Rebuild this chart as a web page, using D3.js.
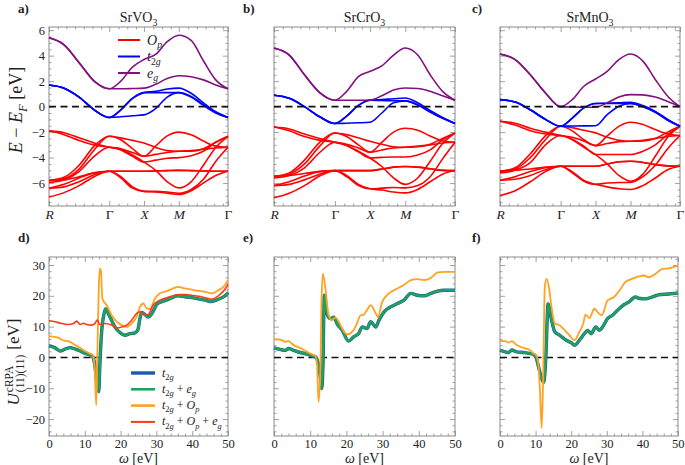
<!DOCTYPE html>
<html><head><meta charset="utf-8">
<script src="https://cdn.jsdelivr.net/npm/d3@7"></script>
<style>
body{margin:0;background:#fff}
svg{display:block}
svg text{font-family:"Liberation Serif","Times New Roman","DejaVu Serif",serif !important;fill:#222}
</style>
</head><body><svg id="chart" width="685" height="465" font-family="Liberation Serif"></svg>
<script>
// ---------- k-path & tick data ----------
const kPath = [0, 0.433, 0.866, 1.299, 1.732, 2.065, 2.399, 2.732, 3.065, 3.399, 3.732, 4.086, 4.439, 4.793, 5.146];
const kTickPos = [0, 1.732, 2.732, 3.732, 5.146];
const kTickLabels = ["R", "Γ", "X", "M", "Γ"];
const eTicks = [-6, -4, -2, 0, 2, 4, 6];
const omegaTicks = [0, 10, 20, 30, 40, 50];
const uTicks = [-20, -10, 0, 10, 20, 30];
const compounds = ["SrVO", "SrCrO", "SrMnO"];

// ---------- SrVO3 bands ----------
const srvo3_eg = [
  [5.4, 4.85, 3.45, 2.0, 1.4, 2.0, 3.1, 3.7, 4.1, 5.1, 5.6, 5.2, 3.6, 2.1, 1.4],
  [5.4, 4.85, 3.45, 2.0, 1.4, 1.4, 1.42, 1.45, 1.75, 2.2, 2.42, 2.35, 2.1, 1.7, 1.4]
];
const srvo3_t2g = [
  [1.7, 1.45, 0.75, -0.25, -0.85, -0.25, 0.65, 1.1, 1.2, 1.38, 1.45, 1.05, 0.3, -0.4, -0.85],
  [1.7, 1.45, 0.75, -0.25, -0.85, -0.25, 0.65, 1.1, 1.1, 1.1, 1.1, 0.8, 0.15, -0.45, -0.85],
  [1.7, 1.45, 0.75, -0.25, -0.85, -0.8, -0.72, -0.65, -0.15, 0.75, 1.1, 0.75, 0.1, -0.5, -0.85]
];
const srvo3_op = [
  [-1.9, -2.05, -2.45, -2.85, -3.19, -3.3, -3.6, -3.9, -3.75, -3.6, -3.5, -3.45, -3.35, -3.25, -3.19],
  [-1.9, -2.2, -2.65, -3.0, -3.19, -3.4, -3.9, -4.35, -4.2, -4.05, -4.0, -3.85, -3.5, -2.8, -2.33],
  [-5.8, -5.55, -4.6, -3.1, -2.33, -2.45, -2.65, -2.85, -3.2, -3.45, -3.5, -3.5, -3.3, -2.8, -2.33],
  [-5.8, -5.65, -4.9, -3.4, -2.33, -2.6, -3.3, -3.9, -3.1, -2.3, -2.0, -2.2, -2.7, -3.1, -3.19],
  [-5.95, -5.75, -5.1, -3.9, -3.19, -3.35, -3.8, -4.35, -5.0, -5.9, -6.38, -5.9, -4.6, -3.2, -2.33],
  [-6.4, -6.1, -5.6, -5.2, -5.07, -5.07, -5.07, -5.07, -5.05, -5.02, -5.0, -5.02, -5.05, -5.07, -5.07],
  [-6.4, -6.3, -5.9, -5.35, -5.07, -5.5, -6.3, -6.65, -6.7, -6.8, -6.9, -6.6, -6.0, -5.4, -5.07],
  [-7.1, -6.75, -6.2, -5.5, -5.07, -5.6, -6.4, -6.65, -6.65, -6.7, -6.8, -6.5, -5.7, -4.3, -3.19],
  [-5.8, -5.75, -5.5, -5.2, -5.07, -5.07, -5.07, -5.07, -5.05, -5.02, -5.0, -5.02, -5.05, -5.07, -5.07]
];

// ---------- SrCrO3 bands ----------
const srcro3_eg = [
  [4.6, 4.05, 2.5, 1.1, 0.5, 1.2, 2.35, 2.77, 3.2, 4.05, 4.6, 4.05, 2.5, 1.2, 0.5],
  [4.6, 4.05, 2.5, 1.1, 0.5, 0.5, 0.5, 0.52, 0.85, 1.3, 1.46, 1.42, 1.2, 0.85, 0.5]
];
const srcro3_t2g = [
  [0.89, 0.65, 0.0, -0.8, -1.33, -0.75, 0.1, 0.5, 0.55, 0.62, 0.68, 0.3, -0.3, -0.85, -1.33],
  [0.89, 0.65, 0.0, -0.8, -1.33, -0.75, 0.1, 0.5, 0.48, 0.46, 0.45, 0.15, -0.4, -0.9, -1.33],
  [0.89, 0.65, 0.0, -0.8, -1.33, -1.3, -1.27, -1.23, -0.5, 0.3, 0.45, 0.12, -0.42, -0.92, -1.33]
];
const srcro3_op = [
  [-1.6, -1.75, -2.15, -2.5, -2.8, -2.95, -3.25, -3.58, -3.4, -3.25, -3.19, -3.1, -3.0, -2.85, -2.8],
  [-1.6, -1.9, -2.35, -2.65, -2.8, -3.05, -3.55, -4.03, -3.98, -3.95, -3.95, -3.8, -3.4, -2.6, -2.07],
  [-5.46, -5.2, -4.2, -2.8, -2.07, -2.2, -2.45, -2.72, -2.95, -3.15, -3.19, -3.15, -2.95, -2.5, -2.07],
  [-5.46, -5.3, -4.5, -3.1, -2.07, -2.35, -3.0, -3.58, -2.8, -2.0, -1.7, -1.85, -2.3, -2.7, -2.8],
  [-5.6, -5.4, -4.8, -3.6, -2.8, -3.05, -3.5, -4.03, -4.7, -5.6, -6.1, -5.6, -4.3, -2.9, -2.07],
  [-6.2, -5.9, -5.45, -5.1, -5.02, -5.02, -5.02, -5.02, -4.9, -4.75, -4.7, -4.75, -4.88, -5.0, -5.02],
  [-6.2, -6.1, -5.75, -5.3, -5.02, -5.4, -6.1, -6.45, -6.55, -6.7, -6.77, -6.5, -5.9, -5.3, -5.02],
  [-7.16, -6.8, -6.2, -5.45, -5.02, -5.5, -6.2, -6.45, -6.4, -6.35, -6.38, -6.2, -5.5, -4.1, -2.8],
  [-5.46, -5.4, -5.25, -5.08, -5.02, -5.02, -5.02, -5.02, -4.9, -4.75, -4.7, -4.75, -4.88, -5.0, -5.02]
];

// ---------- SrMnO3 bands ----------
const srmno3_eg = [
  [4.13, 3.69, 2.5, 1.07, 0.0, 0.55, 1.6, 2.17, 2.77, 3.69, 4.13, 3.57, 2.13, 0.82, 0.0],
  [4.13, 3.69, 2.5, 1.07, 0.0, -0.03, -0.04, -0.05, 0.3, 0.75, 0.94, 0.92, 0.75, 0.4, 0.0]
];
const srmno3_t2g = [
  [0.55, 0.37, -0.25, -1.0, -1.54, -0.9, -0.1, 0.25, 0.27, 0.3, 0.34, 0.08, -0.37, -1.0, -1.54],
  [0.55, 0.37, -0.25, -1.0, -1.54, -0.9, -0.1, 0.25, 0.25, 0.25, 0.25, 0.02, -0.42, -1.05, -1.54],
  [0.55, 0.37, -0.25, -1.0, -1.54, -1.52, -1.51, -1.5, -0.63, 0.03, 0.25, 0.0, -0.45, -1.07, -1.54]
];
const srmno3_op = [
  [-1.15, -1.3, -1.7, -2.0, -2.27, -2.4, -2.7, -3.06, -2.9, -2.75, -2.72, -2.65, -2.5, -2.35, -2.27],
  [-1.15, -1.45, -1.9, -2.15, -2.27, -2.55, -3.1, -3.76, -3.76, -3.76, -3.76, -3.5, -3.0, -2.2, -1.54],
  [-5.07, -4.8, -3.7, -2.3, -1.54, -1.65, -1.85, -2.06, -2.4, -2.65, -2.72, -2.7, -2.5, -2.0, -1.54],
  [-5.07, -4.9, -4.0, -2.6, -1.54, -1.9, -2.6, -3.06, -2.3, -1.55, -1.23, -1.4, -1.8, -2.15, -2.27],
  [-5.2, -5.0, -4.4, -3.0, -2.27, -2.6, -3.2, -3.76, -4.5, -5.4, -5.86, -5.3, -3.9, -2.4, -1.54],
  [-5.78, -5.5, -5.1, -4.8, -4.68, -4.68, -4.68, -4.68, -4.5, -4.33, -4.29, -4.38, -4.55, -4.65, -4.68],
  [-5.78, -5.7, -5.4, -4.95, -4.68, -5.1, -5.8, -6.1, -6.3, -6.45, -6.51, -6.2, -5.6, -4.95, -4.68],
  [-6.98, -6.6, -5.9, -5.1, -4.68, -5.2, -5.85, -6.1, -6.0, -5.95, -5.95, -5.5, -4.6, -3.3, -2.27],
  [-5.07, -5.0, -4.9, -4.75, -4.68, -4.68, -4.68, -4.68, -4.5, -4.33, -4.29, -4.38, -4.55, -4.65, -4.68]
];

// ---------- cRPA U(omega) : [omega, U] ----------
const srvo3_U_t2g = [[0,3.8],[1.7,3.1],[3.1,2.1],[4.5,2.7],[5.9,3.2],[7.3,2.7],[8.7,2.1],[10.1,1.3],[11.5,0.8],[12.1,0.5],[12.8,-2.5],[13.4,-8.4],[13.9,-11.1],[14.2,-2.5],[14.7,8.3],[15.4,14.3],[15.8,15.7],[17.0,13.2],[18.4,9.9],[19.8,8.1],[21.2,7.2],[22.6,7.7],[24.0,8.0],[24.8,8.9],[25.4,12.6],[25.9,14.6],[26.8,13.9],[27.7,13.1],[28.7,14.2],[30.1,17.2],[31.5,18.1],[33.3,18.8],[34.7,19.6],[36.1,20.0],[38.0,19.7],[39.9,19.4],[41.7,19.0],[43.6,18.6],[45.4,18.1],[47.3,18.9],[49.2,20.0],[50,21.0]];
const srvo3_U_t2g_eg = [[0,3.7],[1.7,3.0],[3.1,2.1],[4.5,2.7],[5.9,3.1],[7.3,2.7],[8.7,2.1],[10.1,1.3],[11.5,0.8],[12.1,0.5],[12.8,-2.5],[13.4,-8.4],[13.9,-11.1],[14.2,-2.5],[14.7,8.3],[15.4,14.3],[15.8,15.7],[17.0,13.2],[18.4,9.9],[19.8,8.1],[21.2,7.2],[22.6,7.7],[24.0,8.0],[24.8,8.9],[25.4,12.6],[25.9,14.6],[26.8,13.9],[27.7,13.1],[28.7,14.2],[30.1,17.2],[31.5,18.1],[33.3,18.8],[34.7,19.6],[36.1,20.0],[38.0,19.7],[39.9,19.4],[41.7,19.0],[43.6,18.6],[45.4,18.1],[47.3,18.9],[49.2,20.0],[50,21.0]];
const srvo3_U_t2g_op = [[0,6.9],[2.6,6.4],[4.0,5.5],[5.4,5.3],[7.3,4.0],[8.7,3.1],[10.1,2.1],[11.5,1.2],[12.2,0.8],[12.7,-2.5],[13.2,-15.5],[13.5,0.8],[13.9,22.4],[14.2,28.9],[14.5,28.3],[14.9,19.1],[16.1,17.0],[17.5,13.7],[18.9,11.6],[20.3,10.5],[21.7,9.9],[23.1,11.0],[24.5,13.2],[25.4,16.4],[26.4,17.5],[27.3,15.9],[28.2,15.7],[29.6,19.1],[31.0,20.8],[32.9,21.5],[34.7,22.4],[36.1,22.9],[38.0,22.4],[40.8,21.8],[43.6,21.3],[45.4,20.8],[47.3,21.8],[49.2,23.5],[50,25.1]];
const srvo3_U_t2g_op_eg = [[0,11.9],[1.7,11.6],[3.5,11.0],[5.4,10.7],[6.8,11.0],[7.7,11.8],[8.7,10.7],[9.6,11.1],[10.5,10.7],[11.9,10.5],[12.8,11.0],[13.5,12.1],[14.2,10.7],[15.6,11.0],[17.5,10.5],[18.9,9.6],[20.3,9.9],[21.7,10.5],[23.1,12.1],[24.5,14.3],[25.4,14.8],[26.8,13.7],[27.7,13.9],[29.1,17.0],[31.0,18.6],[32.9,19.4],[34.7,20.0],[36.1,20.4],[38.0,20.4],[40.8,20.0],[43.6,19.4],[45.4,18.9],[47.3,20.0],[49.2,22.2],[50,23.7]];

const srcro3_U_t2g = [[0,3.1],[1.7,2.6],[3.1,2.3],[4.0,2.9],[5.4,2.3],[7.2,1.6],[9.1,1.1],[10.5,0.5],[11.4,0.2],[12.3,-2.5],[12.8,-6.3],[13.2,-10.1],[13.5,-3.6],[13.9,20.2],[14.6,14.3],[15.6,12.6],[16.5,13.1],[17.4,11.0],[18.8,8.9],[20.6,5.3],[22.0,6.7],[23.4,7.8],[24.4,9.9],[25.7,9.4],[26.7,11.6],[28.1,9.9],[29.0,12.1],[30.4,14.8],[32.2,16.4],[34.1,17.5],[35.9,18.6],[37.8,20.8],[39.6,20.2],[41.5,20.0],[43.3,20.8],[45.2,21.5],[47.0,21.8],[50,21.8]];
const srcro3_U_t2g_op = [[0,5.9],[1.7,5.8],[3.1,5.1],[4.0,5.3],[5.4,4.0],[7.2,3.1],[9.1,1.8],[10.5,1.0],[11.4,0.5],[11.9,-2.5],[12.3,-14.4],[12.8,-4.6],[13.1,17.0],[13.5,27.2],[14.2,22.4],[15.1,13.7],[16.0,12.1],[16.9,12.9],[17.9,11.6],[18.8,9.4],[20.2,7.5],[21.1,7.8],[22.5,9.9],[23.1,11.6],[23.9,13.7],[24.8,13.9],[25.7,15.4],[26.7,17.0],[28.1,14.3],[28.7,13.2],[29.9,18.1],[31.8,20.8],[34.1,22.4],[35.9,23.5],[37.8,25.1],[39.6,25.4],[41.5,25.1],[43.3,25.8],[45.2,27.6],[47.0,27.8],[50,27.8]];

const srmno3_U_t2g = [[0,2.4],[1.5,1.8],[2.4,1.6],[3.3,2.4],[4.7,1.8],[6.6,1.6],[8.4,1.3],[9.4,1.0],[10.1,0.2],[10.7,-2.5],[11.7,-6.8],[12.3,-8.1],[12.9,0.8],[13.5,17.4],[14.4,12.6],[15.4,8.3],[16.8,7.2],[18.6,5.6],[20.0,4.8],[20.9,4.0],[22.3,5.6],[23.7,7.7],[24.6,8.8],[25.6,7.7],[26.9,9.9],[27.9,8.8],[28.8,9.9],[30.2,12.6],[31.6,13.7],[33.0,15.3],[34.8,17.1],[36.2,18.0],[38.1,19.6],[39.0,19.2],[40.8,19.0],[42.7,19.6],[44.5,20.3],[47.3,20.6],[50,20.9]];
const srmno3_U_t2g_op = [[0,5.3],[1.5,5.3],[2.4,4.8],[3.3,5.3],[4.7,4.0],[6.6,3.1],[8.4,2.4],[9.4,1.3],[10.1,0.8],[10.7,-1.4],[11.2,-10],[11.7,-22.9],[12.1,-7.8],[12.6,23.3],[13.1,25.5],[13.8,22.3],[14.4,16.9],[15.4,11.0],[16.8,10.4],[17.7,9.4],[19.5,7.2],[20.9,5.6],[22.3,8.3],[23.4,11.0],[24.0,13.9],[25.1,12.8],[26.5,15.8],[27.4,14.7],[28.6,13.7],[30.2,18.5],[32.0,19.6],[33.9,22.3],[35.3,24.6],[37.1,25.5],[39.0,26.3],[40.4,26.6],[41.8,26.0],[43.6,27.1],[45.5,28.7],[47.3,28.9],[50,29.8]];

// ---------- drawing ----------
const FONT = "Liberation Serif";
const svg = d3.select("#chart");
const C = {op:"#ff0000", t2g:"#0000ff", eg:"#7f127f", uBlue:"#1a5aa6", uGreen:"#1fa35a", uOrange:"#ffa21f", uRed:"#ff3a10", frame:"#8a8a8a"};

function rich(t, parts, fs){
  let shift = 0;
  t.attr("font-family", FONT);
  parts.forEach(p=>{
    const target = p.sub ? fs*0.28 : (p.sup ? -fs*0.38 : 0);
    const ts = t.append("tspan").text(p.t).attr("dy", target-shift);
    shift = target;
    if(p.i) ts.attr("font-style","italic");
    if(p.sub||p.sup) ts.attr("font-size", fs*0.7);
  });
  return t;
}

function frame(g, x, y, xr, yr, xMajor, xMinor, yMajor, yMinor, xFmt, yFmt){
  const [x0,x1] = xr, [y1,y0] = yr;
  const tickStyle = s => { s.attr("font-family", FONT); s.selectAll(".domain").remove(); s.selectAll(".tick line").attr("stroke", C.frame).attr("stroke-width",0.8); };
  g.append("g").attr("transform",`translate(${x0},0)`).call(d3.axisLeft(y).tickValues(yMinor).tickSize(-2.5).tickFormat("")).call(tickStyle);
  g.append("g").attr("transform",`translate(${x1},0)`).call(d3.axisRight(y).tickValues(yMinor).tickSize(-2.5).tickFormat("")).call(tickStyle);
  g.append("g").attr("transform",`translate(0,${y1})`).call(d3.axisBottom(x).tickValues(xMinor).tickSize(-2.5).tickFormat("")).call(tickStyle);
  g.append("g").attr("transform",`translate(0,${y0})`).call(d3.axisTop(x).tickValues(xMinor).tickSize(-2.5).tickFormat("")).call(tickStyle);
  const yl = g.append("g").attr("transform",`translate(${x0},0)`).call(d3.axisLeft(y).tickValues(yMajor).tickSize(-5).tickPadding(4).tickFormat(yFmt||"")).call(tickStyle);
  yl.selectAll("text").attr("font-size",12.5).attr("fill","#333");
  g.append("g").attr("transform",`translate(${x1},0)`).call(d3.axisRight(y).tickValues(yMajor).tickSize(-5).tickFormat("")).call(tickStyle);
  const xl = g.append("g").attr("transform",`translate(0,${y1})`).call(d3.axisBottom(x).tickValues(xMajor).tickSize(-5).tickPadding(3).tickFormat(xFmt||"")).call(tickStyle);
  xl.selectAll("text").attr("font-size",12.5).attr("fill","#333");
  g.append("g").attr("transform",`translate(0,${y0})`).call(d3.axisTop(x).tickValues(xMajor).tickSize(-5).tickFormat("")).call(tickStyle);
  g.append("rect").attr("x",x0).attr("y",y0).attr("width",x1-x0).attr("height",y1-y0)
    .attr("fill","none").attr("stroke",C.frame).attr("stroke-width",1);
  return xl;
}

// ---- top row ----
const topPanels = [
  {lab:"a)", name:compounds[0], xr:[49,228], eg:srvo3_eg, t2g:srvo3_t2g, op:srvo3_op, lx:18, labels:true},
  {lab:"b)", name:compounds[1], xr:[274,455], eg:srcro3_eg, t2g:srcro3_t2g, op:srcro3_op, lx:243, labels:false},
  {lab:"c)", name:compounds[2], xr:[500,680], eg:srmno3_eg, t2g:srmno3_t2g, op:srmno3_op, lx:472, labels:false}
];
const topY = [206, 27];
const eMinor = d3.range(-7.5, 6.01, 0.5).filter(v => !eTicks.includes(v));
const kMinor = d3.range(0.25, 5.146, 0.25).filter(v => !kTickPos.some(t=>Math.abs(t-v)<0.08));

topPanels.forEach(p=>{
  const g = svg.append("g");
  const x = d3.scaleLinear().domain([0, kPath[kPath.length-1]]).range(p.xr);
  const y = d3.scaleLinear().domain([-7.8, 6.25]).range(topY);
  const xl = frame(g, x, y, p.xr, topY, kTickPos, kMinor, eTicks, eMinor, (d,i)=>kTickLabels[i], p.labels ? d3.format("d") : null);
  xl.selectAll("text").attr("font-style",(d,i)=>kTickLabels[i]==="Γ"?"normal":"italic").attr("font-size",13.5);
  rich(g.append("text").attr("x",(p.xr[0]+p.xr[1])/2).attr("y",22).attr("text-anchor","middle").attr("font-size",14),
    [{t:p.name},{t:"3",sub:true}], 14);
  g.append("text").attr("x",p.lx).attr("y",13).attr("font-size",13).attr("font-weight","bold").attr("font-family",FONT).text(p.lab);
  if(p.labels){
    const leg = [{c:C.op, parts:[{t:"O",i:1},{t:"p",sub:1,i:1}]},
                 {c:C.t2g, parts:[{t:"t",i:1},{t:"2",sub:1},{t:"g",sub:1,i:1}]},
                 {c:C.eg, parts:[{t:"e",i:1},{t:"g",sub:1,i:1}]}];
    leg.forEach((l,i)=>{
      const yy = 40 + i*16.5;
      g.append("line").attr("x1",118).attr("x2",140).attr("y1",yy).attr("y2",yy).attr("stroke",l.c).attr("stroke-width",2);
      rich(g.append("text").attr("x",147).attr("y",yy+4.5).attr("font-size",14), l.parts, 14);
    });
  }
  const line = d3.line().x((d,i)=>x(kPath[i])).y(d=>y(d)).curve(d3.curveMonotoneX);
  const draw = (arr,col)=> g.append("g").selectAll("path").data(arr).join("path")
      .attr("d",line).attr("fill","none").attr("stroke",col).attr("stroke-width",1.6);
  draw(p.op, C.op); draw(p.t2g, C.t2g); draw(p.eg, C.eg);
  g.append("line").attr("x1",p.xr[0]).attr("x2",p.xr[1]).attr("y1",y(0)).attr("y2",y(0))
    .attr("stroke","#111").attr("stroke-width",1.6).attr("stroke-dasharray","7,4.5");
});
{
  const t = svg.append("text").attr("transform","translate(22,110) rotate(-90)").attr("text-anchor","middle").attr("font-size",18);
  rich(t,[{t:"E",i:1},{t:" − "},{t:"E",i:1},{t:"F",sub:1,i:1},{t:" [eV]"}],18);
}

// ---- bottom row ----
const botPanels = [
  {lab:"d)", xr:[49,228], lx:18, labels:true,
   series:[{d:srvo3_U_t2g,c:C.uBlue,w:3.4},{d:srvo3_U_t2g_eg,c:C.uGreen,w:2.4},{d:srvo3_U_t2g_op,c:C.uOrange,w:1.8},{d:srvo3_U_t2g_op_eg,c:C.uRed,w:1.6}]},
  {lab:"e)", xr:[274,455], lx:243, labels:false,
   series:[{d:srcro3_U_t2g,c:C.uBlue,w:3.4},{d:srcro3_U_t2g,c:C.uGreen,w:2.4},{d:srcro3_U_t2g_op,c:C.uOrange,w:1.8}]},
  {lab:"f)", xr:[500,678], lx:472, labels:false,
   series:[{d:srmno3_U_t2g,c:C.uBlue,w:3.4},{d:srmno3_U_t2g,c:C.uGreen,w:2.4},{d:srmno3_U_t2g_op,c:C.uOrange,w:1.8}]}
];
const botY = [436, 257];
const uMinor = d3.range(-24, 32.1, 2).filter(v=>!uTicks.includes(v));
const wMinor = d3.range(2, 50, 2).filter(v=>!omegaTicks.includes(v));
botPanels.forEach((p,pi)=>{
  const g = svg.append("g");
  const x = d3.scaleLinear().domain([0,50]).range(p.xr);
  const y = d3.scaleLinear().domain([-25.5,32.6]).range(botY);
  const xl = frame(g, x, y, p.xr, botY, omegaTicks, wMinor, uTicks, uMinor, d3.format("d"), p.labels ? d3.format("d") : null);
  if(pi===2) xl.selectAll("text").filter(d=>d===50).attr("text-anchor","end").attr("dx",6);
  g.append("text").attr("x",p.lx).attr("y",242).attr("font-size",13).attr("font-weight","bold").attr("font-family",FONT).text(p.lab);
  rich(g.append("text").attr("x",(p.xr[0]+p.xr[1])/2).attr("y",463).attr("text-anchor","middle").attr("font-size",14),
    [{t:"ω",i:1},{t:" [eV]"}],14);
  g.append("line").attr("x1",p.xr[0]).attr("x2",p.xr[1]).attr("y1",y(0)).attr("y2",y(0))
    .attr("stroke","#111").attr("stroke-width",1.6).attr("stroke-dasharray","7,4.5");
  const line = d3.line().x(d=>x(d[0])).y(d=>y(d[1])).curve(d3.curveMonotoneX);
  p.series.forEach(s=>{
    g.append("path").attr("d",line(s.d)).attr("fill","none").attr("stroke",s.c).attr("stroke-width",s.w).attr("stroke-linejoin","round");
  });
  if(p.labels){
    const leg = [
      {c:C.uBlue,w:3.4,parts:[{t:"t",i:1},{t:"2",sub:1},{t:"g",sub:1,i:1}]},
      {c:C.uGreen,w:2.6,parts:[{t:"t",i:1},{t:"2",sub:1},{t:"g",sub:1,i:1},{t:" + "},{t:"e",i:1},{t:"g",sub:1,i:1}]},
      {c:C.uOrange,w:2.6,parts:[{t:"t",i:1},{t:"2",sub:1},{t:"g",sub:1,i:1},{t:" + "},{t:"O",i:1},{t:"p",sub:1,i:1}]},
      {c:C.uRed,w:2,parts:[{t:"t",i:1},{t:"2",sub:1},{t:"g",sub:1,i:1},{t:" + "},{t:"O",i:1},{t:"p",sub:1,i:1},{t:" + "},{t:"e",i:1},{t:"g",sub:1,i:1}]}
    ];
    leg.forEach((l,i)=>{
      const yy = 373 + i*16.3;
      g.append("line").attr("x1",131).attr("x2",155).attr("y1",yy).attr("y2",yy).attr("stroke",l.c).attr("stroke-width",l.w);
      rich(g.append("text").attr("x",162).attr("y",yy+3.5).attr("font-size",12), l.parts, 12);
    });
  }
});
{
  const g = svg.append("g").attr("transform","translate(19,362) rotate(-90)").attr("font-family",FONT);
  const t1 = g.append("text").attr("font-size",17).attr("font-style","italic").text("U");
  const w1 = t1.node().getComputedTextLength();
  const sp = g.append("text").attr("x",w1+1).attr("y",-6).attr("font-size",11.5).text("cRPA");
  const sb = g.append("text").attr("x",w1+1).attr("y",5).attr("font-size",11.5).text("(11)(11)");
  const w2 = Math.max(sp.node().getComputedTextLength(), sb.node().getComputedTextLength());
  const t3 = g.append("text").attr("x",w1+w2+6).attr("font-size",17).text("[eV]");
  const total = w1+w2+6+t3.node().getComputedTextLength();
  g.selectAll("text").attr("transform",`translate(${-total/2},0)`);
}
</script></body></html>
